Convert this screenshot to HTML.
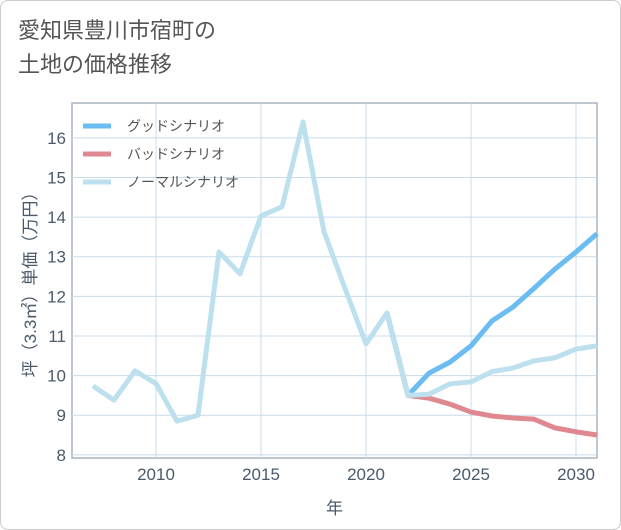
<!DOCTYPE html>
<html><head><meta charset="utf-8"><style>
body{margin:0;width:621px;height:530px;background:#fff;font-family:"Liberation Sans","Noto Sans CJK JP",sans-serif;overflow:hidden}
.card{position:absolute;left:0;top:0;width:619px;height:528px;border:1px solid #ccc;border-radius:8px;background:#fff}
.title{position:absolute;left:18px;top:14px;font-size:22px;line-height:34px;color:#555}
</style></head><body>
<div class="card"></div>
<div class="title">愛知県豊川市宿町の<br>土地の価格推移</div>
<svg id="c" width="621" height="530" style="position:absolute;left:0;top:0"></svg>
<script>
const years=[2007,2008,2009,2010,2011,2012,2013,2014,2015,2016,2017,2018,2019,2020,2021,2022,2023,2024,2025,2026,2027,2028,2029,2030,2031];
const normal=[9.74,9.38,10.12,9.8,8.85,9.0,13.12,12.57,14.03,14.26,16.4,13.63,12.2,10.8,11.58,9.5,9.53,9.79,9.84,10.1,10.19,10.37,10.45,10.67,10.75];
const futYears=[2021,2022,2023,2024,2025,2026,2027,2028,2029,2030,2031];
const good=[11.58,9.5,10.06,10.34,10.75,11.38,11.73,12.2,12.69,13.12,13.58];
const bad=[11.58,9.5,9.43,9.28,9.08,8.98,8.93,8.9,8.68,8.58,8.5];
const xTicks=[2010,2015,2020,2025,2030];
const yTicks=[8,9,10,11,12,13,14,15,16];
const L=72,R=597,T=103,B=458,x0=2006,x1=2031,y0=7.92,y1=16.88;
const X=v=>L+(v-x0)/(x1-x0)*(R-L), Y=v=>B-(v-y0)/(y1-y0)*(B-T);
const s=document.getElementById('c'),NS='http://www.w3.org/2000/svg';
function el(t,a,p){const e=document.createElementNS(NS,t);for(const k in a)e.setAttribute(k,a[k]);(p||s).appendChild(e);return e;}
let e=el('rect',{x:L,y:T,width:R-L,height:B-T,fill:'#fff',stroke:'#a8b4c0','stroke-width':1.5});


xTicks.forEach(t=>{let g=el('line',{x1:X(t),x2:X(t),y1:T,y2:B,stroke:'#c8dcea','stroke-width':1});


let tx=el('text',{x:X(t),y:B+22,'text-anchor':'middle','font-size':17,fill:'#4a5a6a'});tx.textContent=t;

});
yTicks.forEach(t=>{let g=el('line',{x1:L,x2:R,y1:Y(t),y2:Y(t),stroke:'#c8dcea','stroke-width':1});


let tx=el('text',{x:L-6,y:Y(t)+6,'text-anchor':'end','font-size':17,fill:'#4a5a6a'});tx.textContent=t;

});
function line(xs,vs,c,n){let p=el('polyline',{points:xs.map((y,i)=>X(y)+','+Y(vs[i])).join(' '),fill:'none',stroke:c,'stroke-width':5,'stroke-linejoin':'round'});

}
line(futYears,bad,'#e08890','bad-scenario-line');
line(futYears,good,'#6bbcf0','good-scenario-line');
line(years,normal,'#bde0ee','normal-scenario-line');
const leg=[['グッドシナリオ','#6bbcf0'],['バッドシナリオ','#e08890'],['ノーマルシナリオ','#bde0ee']];
leg.forEach((l,i)=>{let y=126+i*28;let ln=el('line',{x1:83,x2:111,y1:y,y2:y,stroke:l[1],'stroke-width':5});


let tx=el('text',{x:127,y:y+5,'font-size':14,fill:'#555'});tx.textContent=l[0];

});
let xt=el('text',{x:(L+R)/2,y:514,'text-anchor':'middle','font-size':17,fill:'#4a5a6a'});xt.textContent='年';


let yt=el('text',{x:0,y:0,'text-anchor':'middle','font-size':17,fill:'#4a5a6a',transform:'translate(36,'+((T+B)/2)+') rotate(-90)'});yt.textContent='坪（3.3㎡）単価（万円）';


</script>
</body></html>
